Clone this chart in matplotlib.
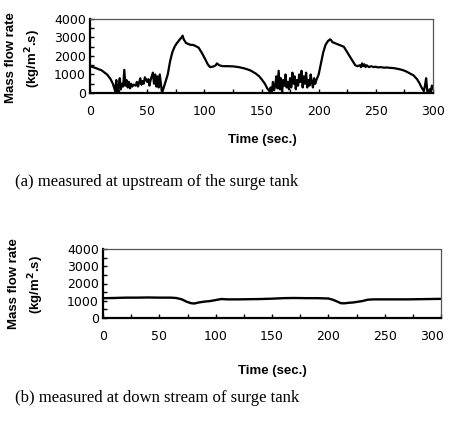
import matplotlib
matplotlib.use("Agg")
import matplotlib.pyplot as plt
from matplotlib.ticker import MultipleLocator
import matplotlib.transforms as mtransforms

# ---- data ----
t_up = [0, 5, 10, 15, 18, 20, 22, 23, 24, 25, 26, 27, 28, 29, 30, 31, 32, 33, 34, 35, 36, 37, 38,
        40, 41, 42, 44, 45, 46, 47, 48, 50, 51, 52, 53, 54, 55, 56, 57, 58, 59, 60, 61, 62, 63,
        64, 66, 68, 70, 72, 74, 76, 78, 80, 81, 82, 83, 84, 86, 88, 90, 92, 95, 98, 101, 103, 105,
        108, 110, 111, 113, 116, 120, 125, 130, 135, 140, 145, 148, 150, 153, 155, 157,
        158, 159, 160, 161, 162, 163, 164, 165, 166, 167, 168, 169, 170, 171, 172, 173, 174, 175,
        176, 177, 178, 179, 180, 181, 182, 183, 184, 185, 186, 187, 188, 189, 190, 191, 192, 193,
        194, 195, 196, 197, 198, 200, 202, 204, 206, 208, 210, 211, 212, 214, 216, 218, 220, 222,
        224, 226, 228, 230, 232, 234, 236, 237, 238, 239, 240, 241, 242, 243, 244, 246, 248, 250,
        252, 254, 256, 258, 260, 262, 265, 268, 271, 274, 277, 280, 283, 286, 288, 290, 292, 293,
        294, 295, 296, 297, 298, 299, 300]
v_up = [1450, 1350, 1230, 1000, 750, 500, 100, 700, 0, 300, 800, 200, 500, 350, 1250, 400, 700, 300, 600, 250, 500, 350, 450,
        400, 600, 350, 800, 450, 650, 500, 850, 600, 750, 400, 700, 900, 1100, 500, 1000, 350, 900, 300, 1000, 500, 0,
        200, 600, 1000, 1700, 2200, 2500, 2700, 2850, 3000, 3100, 2900, 2800, 2700, 2650, 2600, 2600, 2550, 2450, 2150, 1800, 1550, 1400,
        1430, 1500, 1600, 1500, 1450, 1450, 1440, 1400, 1330, 1230, 1050, 900, 750, 500, 250, 100,
        300, 0, 600, 150, 400, 900, 250, 1200, 200, 800, 50, 700, 400, 1000, 300, 600, 200, 800,
        300, 1100, 500, 900, 200, 700, 400, 1000, 600, 1200, 300, 900, 500, 1100, 300, 700, 400, 1000,
        600, 300, 800, 500, 700, 1000, 1600, 2200, 2600, 2800, 2900, 2850, 2750, 2700, 2650, 2600, 2550, 2500,
        2300, 2100, 1900, 1700, 1500, 1450, 1500, 1400, 1600, 1450, 1550, 1400, 1500, 1450, 1400, 1450, 1400, 1420,
        1380, 1400, 1380, 1370, 1380, 1360, 1350, 1320, 1280, 1230, 1150, 1050, 950, 750, 550, 300, 100, 400,
        800, 100, 0, 200, 0, 400, 250]

t_dn = [0, 10, 20, 30, 40, 50, 60, 65, 70, 74, 78, 81, 85, 90, 95, 100, 105, 110, 120, 130, 140,
        150, 160, 170, 180, 190, 200, 204, 208, 211, 214, 218, 222, 226, 230, 235, 240, 250, 260,
        270, 280, 290, 300]
v_dn = [1150, 1160, 1180, 1180, 1190, 1180, 1180, 1160, 1080, 950, 860, 840, 900, 950, 980, 1040, 1100, 1080, 1080, 1090, 1100,
        1120, 1150, 1160, 1150, 1150, 1130, 1060, 950, 860, 850, 880, 900, 940, 980, 1060, 1080, 1080, 1080,
        1080, 1090, 1100, 1110]

x_ticks = [0, 50, 100, 150, 200, 250, 300]
y_ticks = [0, 1000, 2000, 3000, 4000]
y_label = "Mass flow rate\n(kg/m$^\\mathbf{2}$.s)"
x_label = "Time (sec.)"
cap_a = "(a) measured at upstream of the surge tank"
cap_b = "(b) measured at down stream of surge tank"

W, H = 449, 426
fig = plt.figure(figsize=(W / 100, H / 100), dpi=100)

def px_axes(l, r, top, bot):
    return fig.add_axes([l / W, 1 - bot / H, (r - l) / W, (bot - top) / H])

def style(ax):
    ax.set_xlim(0, 300)
    ax.set_ylim(0, 4000)
    ax.set_xticks(x_ticks)
    ax.set_yticks(y_ticks)
    ax.xaxis.set_minor_locator(MultipleLocator(25))
    ax.yaxis.set_minor_locator(MultipleLocator(500))
    ax.tick_params(which="both", direction="in", length=3, width=1, colors="black",
                   labelsize=9, top=False, right=False)
    ax.tick_params(axis="x", pad=9)
    ax.tick_params(axis="y", pad=3)
    for s in ("left", "bottom"):
        ax.spines[s].set_linewidth(1.6)
    for s in ("top", "right"):
        ax.spines[s].set_linewidth(0.9)
        ax.spines[s].set_color("#555555")
        ax.spines[s].set_linestyle((0, (3, 1)))
    for lab in ax.get_xticklabels() + ax.get_yticklabels():
        lab.set_fontfamily("DejaVu Sans")

ax1 = px_axes(90, 433, 19, 93)
ax1.plot(t_up, v_up, color="black", lw=1.6)
style(ax1)

ax2 = px_axes(103, 441, 249, 318)
ax2.plot(t_dn, v_dn, color="black", lw=1.7)
style(ax2)
# the last bottom tick label sits at the figure edge; nudge it inside
fig.canvas.draw()
last = ax2.get_xticklabels()[-1]
last.set_transform(last.get_transform() + mtransforms.ScaledTranslation(-9 / 100, 0, fig.dpi_scale_trans))

lab_kw = dict(fontfamily="Liberation Sans", fontweight="bold", fontsize=9.5, ha="center", va="center")
fig.text(24 / W, 1 - 58 / H, y_label, rotation=90, linespacing=1.45, **lab_kw)
fig.text(27 / W, 1 - 284 / H, y_label, rotation=90, linespacing=1.45, **lab_kw)
fig.text(262 / W, 1 - 140 / H, x_label, fontfamily="Liberation Sans", fontweight="bold",
         fontsize=9.5, ha="center", va="center")
fig.text(272 / W, 1 - 371 / H, x_label, fontfamily="Liberation Sans", fontweight="bold",
         fontsize=9.5, ha="center", va="center")

cap_kw = dict(fontfamily="Liberation Serif", fontsize=12, ha="left", va="center")
fig.text(15 / W, 1 - 182 / H, cap_a, **cap_kw)
fig.text(15 / W, 1 - 398 / H, cap_b, **cap_kw)

fig.savefig("out.png", dpi=100)
